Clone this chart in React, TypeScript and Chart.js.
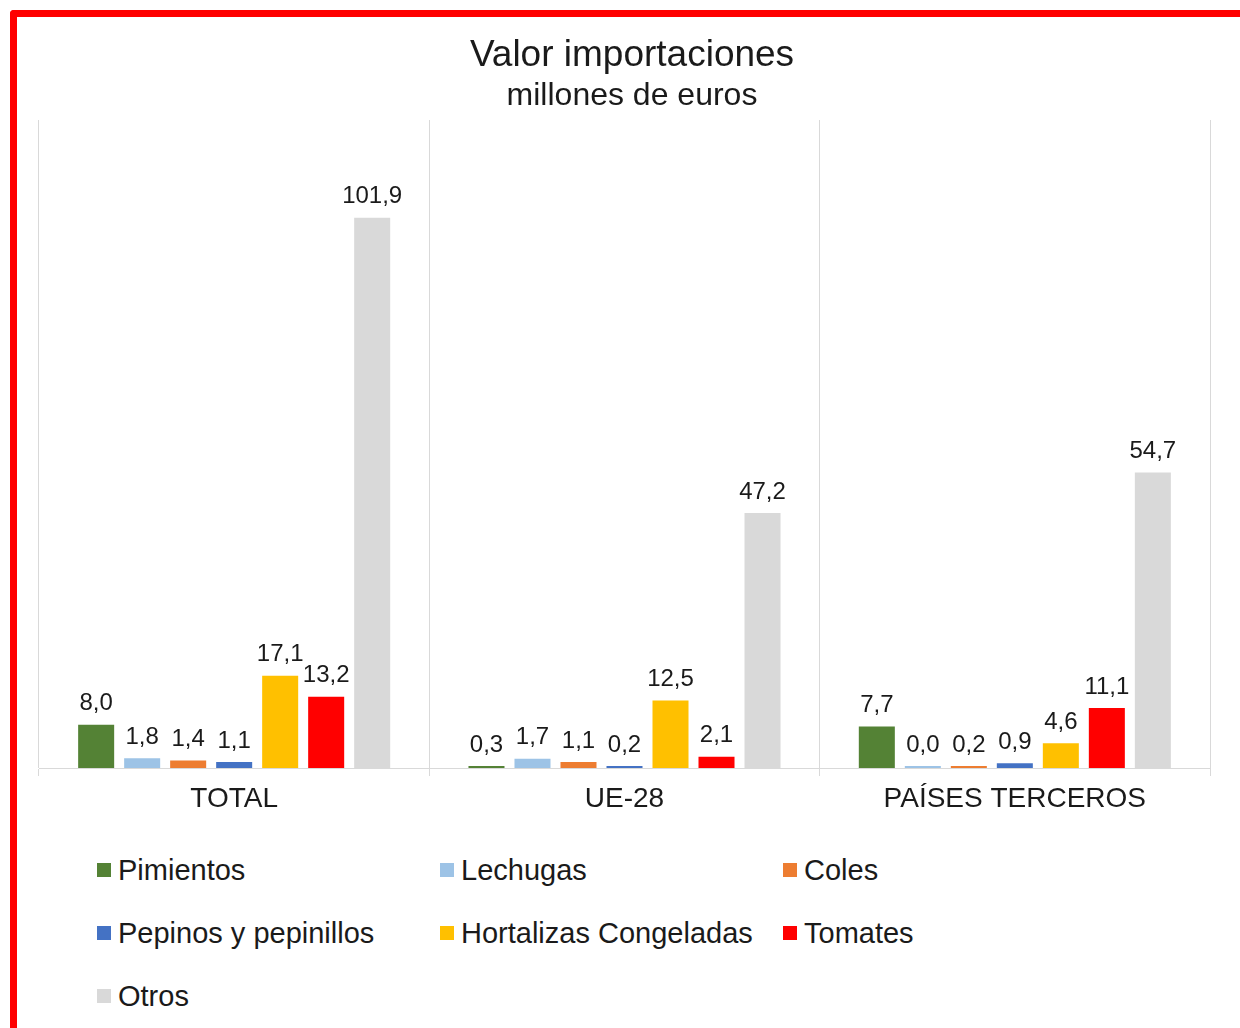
import React, { useEffect, useRef } from "react";
import { Chart, registerables } from "chart.js";

Chart.register(...registerables);

const categories = ["TOTAL", "UE-28", "PAÍSES TERCEROS"];
const seriesNames = [
  "Pimientos",
  "Lechugas",
  "Coles",
  "Pepinos y pepinillos",
  "Hortalizas Congeladas",
  "Tomates",
  "Otros",
];
const seriesColors = ["#548235", "#9DC3E6", "#ED7D31", "#4472C4", "#FFC000", "#FF0000", "#D9D9D9"];
const pimientos = [8.0, 0.3, 7.7];
const lechugas = [1.8, 1.7, 0.0];
const coles = [1.4, 1.1, 0.2];
const pepinos = [1.1, 0.2, 0.9];
const hortalizas = [17.1, 12.5, 4.6];
const tomates = [13.2, 2.1, 11.1];
const otros = [101.9, 47.2, 54.7];
const seriesValues = [pimientos, lechugas, coles, pepinos, hortalizas, tomates, otros];

const titleText = "Valor importaciones";
const subtitleText = "millones de euros";
const FONT = '"Liberation Sans", Arial, sans-serif';

const dataLabelPlugin = {
  id: "dataLabels",
  afterDatasetsDraw(chart: any) {
    const ctx = chart.ctx;
    ctx.save();
    ctx.font = `24px ${FONT}`;
    ctx.fillStyle = "#1a1a1a";
    ctx.textAlign = "center";
    ctx.textBaseline = "middle";
    chart.data.datasets.forEach((ds: any, di: number) => {
      const meta = chart.getDatasetMeta(di);
      meta.data.forEach((el: any, i: number) => {
        const v = ds.data[i] as number;
        const label = v.toFixed(1).replace(".", ",");
        ctx.fillText(label, el.x, el.y - 21);
      });
    });
    ctx.restore();
  },
};

export default function App() {
  const canvasRef = useRef<HTMLCanvasElement | null>(null);

  useEffect(() => {
    if (!canvasRef.current) return;
    const chart = new Chart(canvasRef.current, {
      type: "bar",
      data: {
        labels: categories,
        datasets: seriesNames.map((name, i) => ({
          label: name,
          data: seriesValues[i],
          backgroundColor: seriesColors[i],
          borderWidth: 0,
          categoryPercentage: 0.825,
          barPercentage: 0.783,
          minBarLength: 2,
        })),
      },
      options: {
        animation: false,
        responsive: false,
        devicePixelRatio: 1,
        layout: { padding: { left: 39, right: 15, top: 0, bottom: 18.4 } },
        plugins: {
          legend: { display: false },
          tooltip: { enabled: false },
          title: {
            display: true,
            text: titleText,
            color: "#1a1a1a",
            font: { family: FONT, size: 37, weight: "normal" },
            padding: { top: 33.8, bottom: 0 },
          },
          subtitle: {
            display: true,
            text: subtitleText,
            color: "#1a1a1a",
            font: { family: FONT, size: 32, weight: "normal", lineHeight: 1.1 },
            padding: { top: 0, bottom: 6.6 },
          },
        },
        scales: {
          x: {
            offset: true,
            grid: {
              display: true,
              offset: true,
              color: "#d9d9d9",
              lineWidth: 1,
              drawOnChartArea: true,
              drawTicks: true,
              tickLength: 8,
            },
            border: { display: true, color: "#d9d9d9", width: 1 },
            ticks: {
              color: "#1a1a1a",
              font: { family: FONT, size: 28 },
              padding: 6,
              maxRotation: 0,
              autoSkip: false,
            },
          },
          y: {
            display: true,
            position: "right",
            min: 0,
            max: 120,
            grid: { display: false },
            border: { display: false },
            ticks: { display: false },
            afterFit: (scale: any) => {
              scale.width = 15;
            },
          },
        },
      },
      plugins: [dataLabelPlugin],
    });
    return () => chart.destroy();
  }, []);

  return (
    <div
      style={{
        position: "fixed",
        left: 0,
        top: 0,
        width: 1240,
        height: 1028,
        background: "#ffffff",
        overflow: "hidden",
        fontFamily: FONT,
      }}
    >
      <div
        style={{
          position: "absolute",
          left: 10,
          top: 10,
          width: 1260,
          height: 1060,
          borderLeft: "7px solid #ff0000",
          borderTop: "7px solid #ff0000",
          borderTopLeftRadius: 4,
          boxSizing: "border-box",
        }}
      />
      <canvas
        ref={canvasRef}
        width={1240}
        height={840}
        style={{ position: "absolute", left: 0, top: 0, width: 1240, height: 840 }}
      />
      {seriesNames.map((name, i) => {
        const col = i % 3;
        const row = Math.floor(i / 3);
        return (
          <div
            key={name}
            style={{
              position: "absolute",
              left: 97 + col * 343,
              top: 870 + row * 63 - 20,
              height: 40,
              display: "flex",
              alignItems: "center",
              whiteSpace: "nowrap",
            }}
          >
            <span
              style={{
                display: "inline-block",
                width: 14,
                height: 14,
                background: seriesColors[i],
                marginRight: 7,
              }}
            />
            <span style={{ fontSize: 29, color: "#1a1a1a", lineHeight: "40px" }}>{name}</span>
          </div>
        );
      })}
    </div>
  );
}
